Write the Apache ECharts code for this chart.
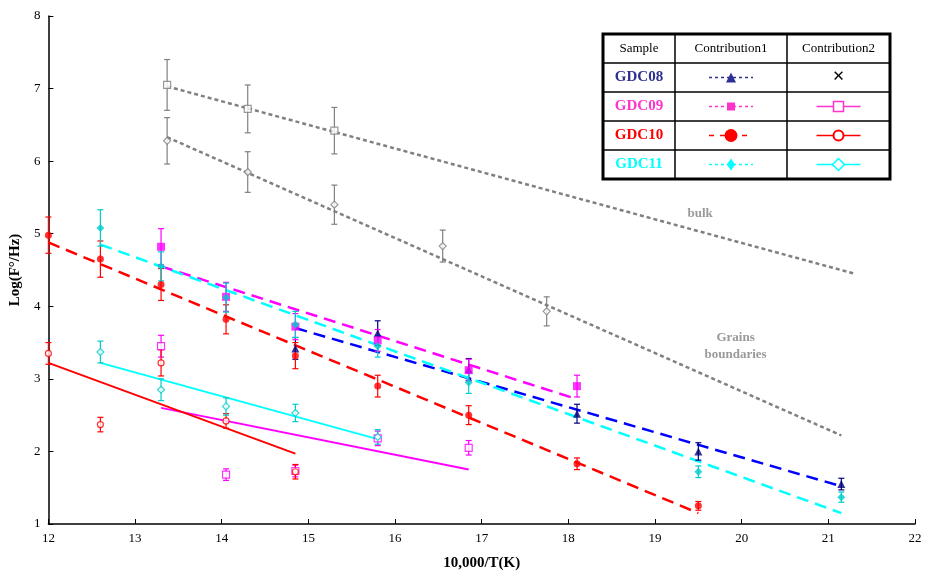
<!DOCTYPE html>
<html><head><meta charset="utf-8">
<script src="https://cdn.jsdelivr.net/npm/echarts@6/dist/echarts.min.js"></script>
<style>body{margin:0}#c{width:933px;height:576px}</style></head>
<body><div id="c"></div>
<script>
// [x, y, err]
var bulkPts = [[13.37,7.05,0.35],[14.3,6.72,0.33],[15.3,6.42,0.32]];
var bulkFit = [[13.37,7.03],[21.3,4.45]];
var gbPts = [[13.37,6.28,0.32],[14.3,5.85,0.28],[15.3,5.4,0.27],[16.55,4.83,0.22],[17.75,3.93,0.2]];
var gbFit = [[13.37,6.33],[21.15,2.22]];
var g08c1 = [[14.85,3.42,0.15],[15.8,3.63,0.17],[16.85,3.13,0.15],[18.1,2.52,0.13],[19.5,2.0,0.12],[21.15,1.55,0.08]];
var g08fit1 = [[14.85,3.7],[21.15,1.52]];
var g09c1 = [[13.3,4.82,0.25],[14.05,4.13,0.2],[14.85,3.72,0.18],[15.8,3.53,0.15],[16.85,3.12,0.15],[18.1,2.9,0.15]];
var g09fit1 = [[13.3,4.55],[18.1,2.72]];
var g09c2 = [[13.3,3.45,0.15],[14.05,1.68,0.08],[14.85,1.73,0.08],[15.8,2.18,0.1],[16.85,2.05,0.1]];
var g09fit2 = [[13.3,2.6],[16.85,1.75]];
var g10c1 = [[12,4.98,0.25],[12.6,4.65,0.25],[13.3,4.3,0.22],[14.05,3.82,0.2],[14.85,3.32,0.18],[15.8,2.9,0.15],[16.85,2.5,0.13],[18.1,1.83,0.08],[19.5,1.25,0.06]];
var g10fit1 = [[12,4.88],[19.5,1.15]];
var g10c2 = [[12,3.35,0.15],[12.6,2.37,0.1],[13.3,3.22,0.18],[14.05,2.42,0.1],[14.85,1.72,0.1]];
var g10fit2 = [[12,3.22],[14.85,1.97]];
var g11c1 = [[12.6,5.08,0.25],[13.3,4.55,0.2],[14.05,4.12,0.2],[14.85,3.75,0.18],[15.8,3.45,0.15],[16.85,2.95,0.15],[19.5,1.72,0.08],[21.15,1.37,0.07]];
var g11fit1 = [[12.6,4.85],[21.15,1.15]];
var g11c2 = [[12.6,3.37,0.15],[13.3,2.85,0.15],[14.05,2.62,0.12],[14.85,2.53,0.12],[15.8,2.2,0.1]];
var g11fit2 = [[12.6,3.22],[15.8,2.17]];

var series = [];
function errBars(pts, color) {
  series.push({
    type: 'custom', silent: true, z: 2,
    data: pts.map(function (p) { return [p[0], p[1] - p[2], p[1] + p[2]]; }),
    renderItem: function (params, api) {
      var x = api.value(0);
      var lo = api.coord([x, api.value(1)]), hi = api.coord([x, api.value(2)]);
      var st = { stroke: color, lineWidth: 1.2 };
      return { type: 'group', children: [
        { type: 'line', shape: { x1: lo[0], y1: lo[1], x2: hi[0], y2: hi[1] }, style: st },
        { type: 'line', shape: { x1: lo[0]-3, y1: lo[1], x2: lo[0]+3, y2: lo[1] }, style: st },
        { type: 'line', shape: { x1: hi[0]-3, y1: hi[1], x2: hi[0]+3, y2: hi[1] }, style: st }
      ]};
    }
  });
}
function pts(data, color, symbol, size, open) {
  errBars(data, color);
  series.push({
    type: 'scatter', z: 3, symbol: symbol, symbolSize: size,
    data: data.map(function (p) { return [p[0], p[1]]; }),
    itemStyle: open ? { color: '#fff', borderColor: color, borderWidth: 1.2 } : { color: color }
  });
}
function fit(data, color, type, width) {
  series.push({
    type: 'line', z: 1, symbol: 'none', data: data,
    lineStyle: { color: color, type: type, width: width }
  });
}
fit(bulkFit, '#808080', [4, 3], 2.5);
fit(gbFit, '#808080', [4, 3], 2.5);
pts(bulkPts, '#808080', 'rect', 7, true);
pts(gbPts, '#808080', 'diamond', 7, true);
fit(g08fit1, '#0000ff', [12, 7], 2.5);
fit(g09fit1, '#ff00ff', [12, 7], 2.5);
fit(g09fit2, '#ff00ff', 'solid', 2);
fit(g10fit1, '#ff0000', [12, 7], 2.5);
fit(g10fit2, '#ff0000', 'solid', 2);
fit(g11fit1, '#00ffff', [12, 7], 2.5);
fit(g11fit2, '#00ffff', 'solid', 2);
pts(g08c1, '#000080', 'triangle', 8, false);
pts(g09c1, '#ff00ff', 'rect', 8, false);
pts(g09c2, '#ff00ff', 'rect', 7, true);
pts(g10c1, '#ff0000', 'circle', 7, false);
pts(g10c2, '#ff0000', 'circle', 6, true);
pts(g11c1, '#00cccc', 'diamond', 8, false);
pts(g11c2, '#00cccc', 'diamond', 7, true);

var chart = echarts.init(document.getElementById('c'));
var axisCommon = {
  axisLine: { onZero: false, lineStyle: { color: '#000', width: 1.5 } },
  axisTick: { inside: true, lineStyle: { color: '#000' } },
  axisLabel: { color: '#000', fontFamily: 'Liberation Serif', fontSize: 13 },
  splitLine: { show: false },
  nameLocation: 'middle',
  nameTextStyle: { color: '#000', fontFamily: 'Liberation Serif', fontWeight: 'bold', fontSize: 15 }
};
chart.setOption({
  animation: false,
  grid: { left: 47, right: 18, top: 16, bottom: 49 },
  xAxis: Object.assign({ type: 'value', min: 12, max: 22, interval: 1, name: '10,000/T(K)', nameGap: 32 }, axisCommon),
  yAxis: Object.assign({ type: 'value', min: 1, max: 8, interval: 1, name: 'Log(F°/Hz)', nameGap: 24 }, axisCommon),
  series: series
});

// legend table and labels
var tl = 603, tt = 34, cw = [72, 112, 103], rh = 29;
var g = [];
var rows = [['Sample','Contribution1','Contribution2'],['GDC08','#2e3192'],['GDC09','#ff33cc'],['GDC10','#ff0000'],['GDC11','#00ffff']];
var W = cw[0]+cw[1]+cw[2], H = rh*5;
g.push({ type: 'rect', shape: { x: tl, y: tt, width: W, height: H }, style: { fill: '#fff', stroke: '#000', lineWidth: 3 } });
for (var i = 1; i < 5; i++) g.push({ type: 'line', shape: { x1: tl, y1: tt+rh*i, x2: tl+W, y2: tt+rh*i }, style: { stroke: '#000', lineWidth: 1.5 } });
g.push({ type: 'line', shape: { x1: tl+cw[0], y1: tt, x2: tl+cw[0], y2: tt+H }, style: { stroke: '#000', lineWidth: 1.5 } });
g.push({ type: 'line', shape: { x1: tl+cw[0]+cw[1], y1: tt, x2: tl+cw[0]+cw[1], y2: tt+H }, style: { stroke: '#000', lineWidth: 1.5 } });
var font = '13px "Liberation Serif"';
[0,1,2].forEach(function (c, k) {
  var cx = tl + cw.slice(0, k).reduce(function (a, b) { return a + b; }, 0) + cw[k]/2;
  g.push({ type: 'text', x: cx, y: tt+rh/2, style: { text: rows[0][k], font: font, fill: '#000', align: 'center', verticalAlign: 'middle' } });
});
var c1x = tl+cw[0]+cw[1]/2, c2x = tl+cw[0]+cw[1]+cw[2]/2;
var syms = [['triangle','#2e3192',10],['rect','#ff33cc',8],['circle','#ff0000',13],['diamond','#00ffff',12]];
for (var r = 1; r < 5; r++) {
  var cy = tt + rh*r + rh/2, col = rows[r][1], sy = syms[r-1];
  g.push({ type: 'text', x: tl+cw[0]/2, y: cy, style: { text: rows[r][0], font: 'bold 15px "Liberation Serif"', fill: col, align: 'center', verticalAlign: 'middle' } });
  g.push({ type: 'line', shape: { x1: c1x-22, y1: cy, x2: c1x+22, y2: cy }, style: { stroke: col, lineWidth: 1.5, lineDash: r == 3 ? [5, 6] : [3, 3] } });
  var half = sy[2]/2;
  if (sy[0] == 'triangle') g.push({ type: 'polygon', shape: { points: [[c1x, cy-half],[c1x-half, cy+half],[c1x+half, cy+half]] }, style: { fill: col } });
  if (sy[0] == 'rect') g.push({ type: 'rect', shape: { x: c1x-half, y: cy-half, width: sy[2], height: sy[2] }, style: { fill: col } });
  if (sy[0] == 'circle') g.push({ type: 'circle', shape: { cx: c1x, cy: cy, r: half }, style: { fill: col } });
  if (sy[0] == 'diamond') g.push({ type: 'polygon', shape: { points: [[c1x, cy-half],[c1x-half*0.7, cy],[c1x, cy+half],[c1x+half*0.7, cy]] }, style: { fill: col } });
  if (r == 1) {
    g.push({ type: 'text', x: c2x, y: cy, style: { text: '✕', font: 'bold 15px "DejaVu Sans"', fill: '#000', align: 'center', verticalAlign: 'middle' } });
  } else {
    g.push({ type: 'line', shape: { x1: c2x-22, y1: cy, x2: c2x+22, y2: cy }, style: { stroke: col, lineWidth: 1.5 } });
    if (sy[0] == 'rect') g.push({ type: 'rect', shape: { x: c2x-5, y: cy-5, width: 10, height: 10 }, style: { fill: '#fff', stroke: col, lineWidth: 1.5 } });
    if (sy[0] == 'circle') g.push({ type: 'circle', shape: { cx: c2x, cy: cy, r: 5 }, style: { fill: '#fff', stroke: col, lineWidth: 2 } });
    if (sy[0] == 'diamond') g.push({ type: 'polygon', shape: { points: [[c2x, cy-6],[c2x-6, cy],[c2x, cy+6],[c2x+6, cy]] }, style: { fill: '#fff', stroke: col, lineWidth: 1.5 } });
  }
}
var pb = chart.convertToPixel({ gridIndex: 0 }, [19.52, 5.27]);
var pg = chart.convertToPixel({ gridIndex: 0 }, [19.93, 3.45]);
var lf = 'bold 13px "Liberation Serif"';
g.push({ type: 'text', x: pb[0], y: pb[1], style: { text: 'bulk', font: lf, fill: '#999', align: 'center', verticalAlign: 'middle' } });
g.push({ type: 'text', x: pg[0], y: pg[1], style: { text: 'Grains\nboundaries', font: lf, fill: '#999', align: 'center', verticalAlign: 'middle', lineHeight: 17 } });
chart.setOption({ graphic: g });
</script>
</body></html>
